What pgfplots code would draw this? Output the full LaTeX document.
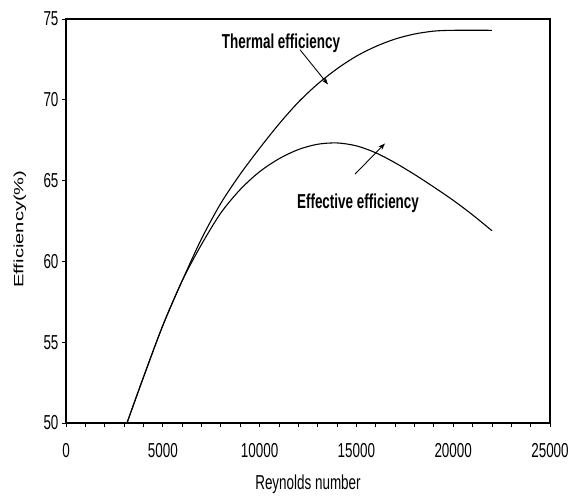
\documentclass[border=0pt]{standalone}
\usepackage{pgfplots}
\pgfplotsset{compat=1.18}
\usepackage{fontspec}
\setmainfont{Liberation Sans}
\usepackage{graphicx}
\usetikzlibrary{arrows.meta}
\newcommand{\tallh}[1]{\scalebox{1}[1.5]{#1}}
\newcommand{\tallv}[1]{\scalebox{1.5}[1]{#1}}
\begin{document}
\begin{tikzpicture}
\useasboundingbox (-66bp,-74bp) rectangle (506bp,423bp);
\begin{axis}[
  at={(0,0)}, anchor=south west,
  scale only axis, width=484bp, height=404bp,
  xmin=0, xmax=25000, ymin=50, ymax=75,
  xtick={0,5000,...,25000}, ytick={50,55,...,75},
  minor x tick num=4,
  tick align=outside, xtick pos=bottom, ytick pos=left,
  major tick length=4bp, minor tick length=4bp,
  scaled x ticks=false,
  /pgf/number format/.cd, 1000 sep={}, assume math mode=true, /pgfplots/.cd,
  xticklabel={\tallh{\pgfmathprintnumber{\tick}}},
  yticklabel={\tallh{\pgfmathprintnumber{\tick}}},
  ticklabel style={font=\fontsize{13.5}{16}\selectfont},
  xticklabel style={yshift=-13bp},
  axis line style={line width=1.2pt},
  every tick/.style={black, line width=0.8pt},
  xlabel={\tallh{Reynolds number}},
  ylabel={\tallv{Efficiency(\%)}},
  label style={font=\fontsize{13.5}{16}\selectfont},
  xlabel style={at={(rel axis cs:0.5,0)}, anchor=center, yshift=-61bp},
  ylabel style={at={(rel axis cs:-0.095,0.48)}, anchor=center},
  clip=false,
]
% Thermal efficiency
\addplot[black, line width=1.1pt, smooth] coordinates {
(3150,50.0) (4000,52.83) (5000,56.03) (6000,58.8) (7000,61.4) (8000,63.6)
(9000,65.4) (10000,67.0) (11000,68.5) (12000,69.85) (13000,70.98)
(14000,71.92) (15000,72.7) (16000,73.3) (17000,73.76) (18000,74.07)
(19000,74.25) (20000,74.3) (22000,74.3)
};
% Effective efficiency
\addplot[black, line width=1.1pt, smooth] coordinates {
(3150,50.0) (4000,52.83) (5000,56.03) (6000,58.8) (7000,61.05) (8000,63.0)
(9000,64.45) (10000,65.55) (11000,66.35) (12000,66.92) (13000,67.25)
(14000,67.33) (15000,67.15) (16000,66.72) (17000,66.1) (18000,65.38)
(19000,64.6) (20000,63.78) (21000,62.88) (22000,61.9)
};
\node[font=\fontsize{13.5}{16}\selectfont\bfseries] at (axis cs:11105,73.5) {\tallh{Thermal efficiency}};
\node[font=\fontsize{13.5}{16}\selectfont\bfseries] at (axis cs:15083,63.6) {\tallh{Effective efficiency}};
\draw[line width=0.9pt, -{Stealth[length=7bp,width=5bp]}] (axis cs:12087,73.1) -- (axis cs:13533,70.95);
\draw[line width=0.9pt, -{Stealth[length=7bp,width=5bp]}] (axis cs:14928,65.4) -- (axis cs:16477,67.3);
\end{axis}
\end{tikzpicture}
\end{document}
